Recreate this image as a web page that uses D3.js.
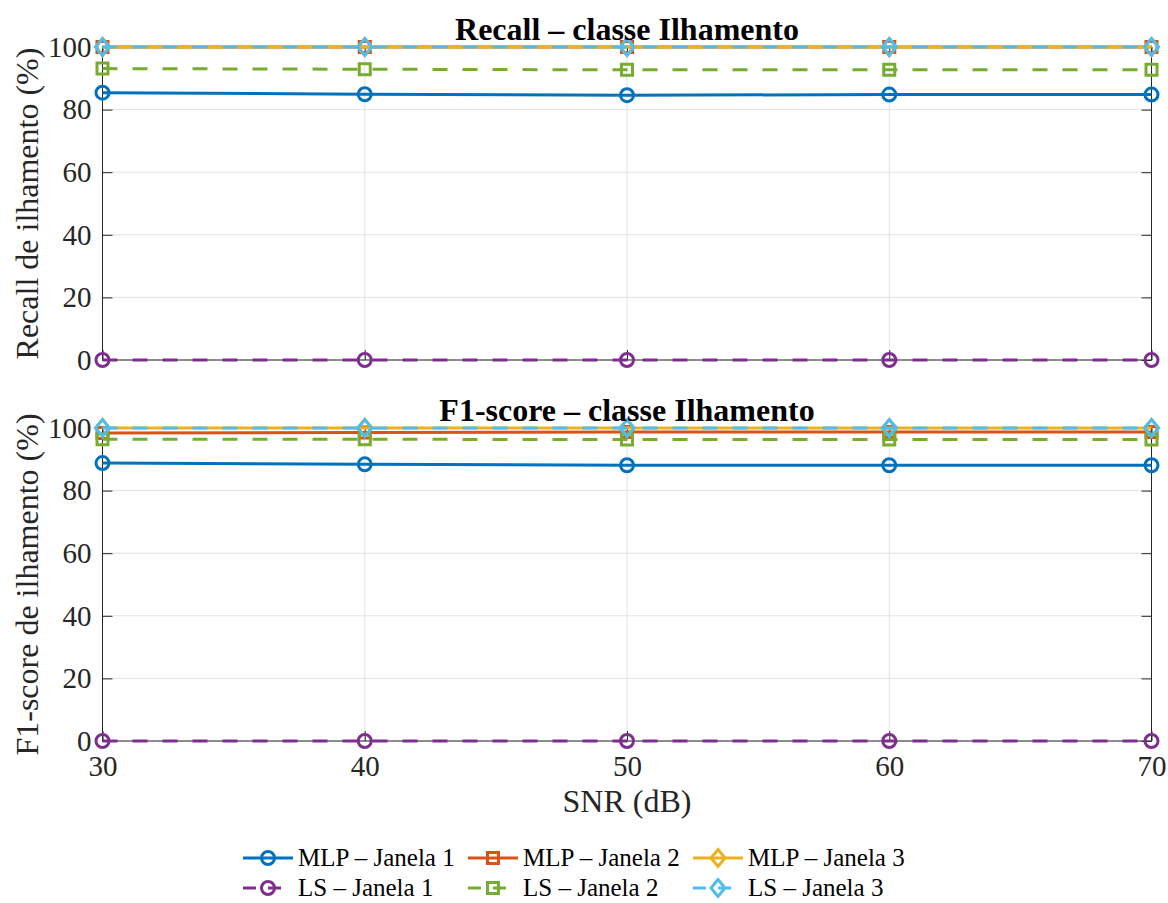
<!DOCTYPE html>
<html>
<head>
<meta charset="utf-8">
<script src="https://cdn.jsdelivr.net/npm/d3@7"></script>
<style>
  body { margin: 0; background: #fff; }
  svg { display: block; font-family: "Liberation Serif", "Times New Roman", serif; }
</style>
</head>
<body>
<svg id="chart" width="1168" height="903"></svg>
<script>
// SNR levels on the x axis
const snr = [30, 40, 50, 60, 70];
const yTicks = [0, 20, 40, 60, 80, 100];

const seriesNames = ["MLP – Janela 1", "MLP – Janela 2", "MLP – Janela 3",
                     "LS – Janela 1", "LS – Janela 2", "LS – Janela 3"];

// Recall (%) of the islanding class
const recallMLP1 = [85.4, 84.9, 84.6, 84.8, 84.8];
const recallMLP2 = [100, 100, 100, 100, 100];
const recallMLP3 = [100, 100, 100, 100, 100];
const recallLS1  = [0, 0, 0, 0, 0];
const recallLS2  = [93.1, 92.9, 92.7, 92.7, 92.7];
const recallLS3  = [100, 100, 100, 100, 100];

// F1-score (%) of the islanding class
const f1MLP1 = [88.8, 88.4, 88.1, 88.1, 88.1];
const f1MLP2 = [98.4, 98.6, 98.7, 98.7, 98.7];
const f1MLP3 = [100, 100, 100, 100, 100];
const f1LS1  = [0, 0, 0, 0, 0];
const f1LS2  = [96.4, 96.4, 96.3, 96.3, 96.3];
const f1LS3  = [100, 100, 100, 100, 100];

const styles = [
  { color: "#0072BD", dash: null,    marker: "circle"  },
  { color: "#D95319", dash: null,    marker: "square"  },
  { color: "#EDB120", dash: null,    marker: "diamond" },
  { color: "#7E2F8E", dash: "15,15", marker: "circle"  },
  { color: "#77AC30", dash: "15,15", marker: "square"  },
  { color: "#4DBEEE", dash: "15,15", marker: "diamond" }
];

const svg = d3.select("#chart");
const axisColor = "#262626";
const gridColor = "#e3e3e3";
const tickFont = 29;
const labelFont = 32;
const legendFont = 25;

const x = d3.scaleLinear().domain([30, 70]).range([102.5, 1151.5]);

function markerPath(type) {
  if (type === "circle") return d3.symbol().type(d3.symbolCircle).size(Math.PI * 6.5 * 6.5)();
  if (type === "square") return "M-5.5,-5.5H5.5V5.5H-5.5Z";
  return "M0,-8.5L7,0L0,8.5L-7,0Z";
}

function drawPanel(top, bottom, title, ylabel, data, showX) {
  const y = d3.scaleLinear().domain([0, 100]).range([bottom, top]);
  const g = svg.append("g");

  // grid
  g.append("g").selectAll("line.v").data(snr).join("line")
    .attr("x1", d => x(d)).attr("x2", d => x(d))
    .attr("y1", top).attr("y2", bottom)
    .attr("stroke", gridColor).attr("stroke-width", 1);
  g.append("g").selectAll("line.h").data(yTicks).join("line")
    .attr("x1", x.range()[0]).attr("x2", x.range()[1])
    .attr("y1", d => y(d)).attr("y2", d => y(d))
    .attr("stroke", gridColor).attr("stroke-width", 1);

  // box
  g.append("rect")
    .attr("x", x.range()[0]).attr("y", top)
    .attr("width", x.range()[1] - x.range()[0]).attr("height", bottom - top)
    .attr("fill", "none").attr("stroke", axisColor).attr("stroke-width", 1);

  // y axis (ticks inward)
  const yAxis = d3.axisLeft(y).tickValues(yTicks).tickSizeInner(-10).tickSizeOuter(0).tickPadding(11);
  const ya = g.append("g").attr("transform", `translate(${x.range()[0]},0)`).call(yAxis);
  ya.select(".domain").remove();
  ya.selectAll("line").attr("stroke", axisColor);
  ya.selectAll("text").attr("font-size", tickFont).attr("fill", axisColor)
    .attr("font-family", "Liberation Serif");
  // right-side ticks
  const yr = g.append("g").attr("transform", `translate(${x.range()[1]},0)`)
    .call(d3.axisRight(y).tickValues(yTicks).tickSizeInner(-10).tickSizeOuter(0).tickFormat(""));
  yr.select(".domain").remove();
  yr.selectAll("line").attr("stroke", axisColor);

  // x axis ticks (inward)
  const xa = g.append("g").attr("transform", `translate(0,${bottom})`)
    .call(d3.axisBottom(x).tickValues(snr).tickSizeInner(-10).tickSizeOuter(0)
      .tickPadding(14).tickFormat(showX ? d3.format("d") : ""));
  xa.select(".domain").remove();
  xa.selectAll("line").attr("stroke", axisColor);
  xa.selectAll("text").attr("font-size", tickFont).attr("fill", axisColor)
    .attr("font-family", "Liberation Serif");
  const xt = g.append("g").attr("transform", `translate(0,${top})`)
    .call(d3.axisTop(x).tickValues(snr).tickSizeInner(-10).tickSizeOuter(0).tickFormat(""));
  xt.select(".domain").remove();
  xt.selectAll("line").attr("stroke", axisColor);

  // series
  const line = d3.line().x((d, i) => x(snr[i])).y(d => y(d));
  data.forEach((vals, k) => {
    const s = styles[k];
    const sg = g.append("g");
    sg.append("path").datum(vals)
      .attr("d", line)
      .attr("fill", "none").attr("stroke", s.color).attr("stroke-width", 3)
      .attr("stroke-dasharray", s.dash);
    sg.selectAll("path.m").data(vals).join("path")
      .attr("class", "m")
      .attr("transform", (d, i) => `translate(${x(snr[i])},${y(d)})`)
      .attr("d", markerPath(s.marker))
      .attr("fill", "none").attr("stroke", s.color).attr("stroke-width", 3);
  });

  // title
  g.append("text").attr("x", (x.range()[0] + x.range()[1]) / 2).attr("y", top - 7)
    .attr("text-anchor", "middle").attr("font-weight", "bold").attr("font-size", 32)
    .attr("fill", "#000").text(title);

  // y label
  g.append("text")
    .attr("transform", `translate(38,${(top + bottom) / 2}) rotate(-90)`)
    .attr("text-anchor", "middle").attr("font-size", labelFont).attr("fill", axisColor)
    .text(ylabel);
}

drawPanel(47, 360, "Recall – classe Ilhamento", "Recall de ilhamento (%)",
  [recallMLP1, recallMLP2, recallMLP3, recallLS1, recallLS2, recallLS3], false);
drawPanel(428, 741, "F1-score – classe Ilhamento", "F1-score de ilhamento (%)",
  [f1MLP1, f1MLP2, f1MLP3, f1LS1, f1LS2, f1LS3], true);

// x label
svg.append("text").attr("x", 627).attr("y", 812).attr("text-anchor", "middle")
  .attr("font-size", labelFont).attr("fill", axisColor).text("SNR (dB)");

// legend: 3 columns x 2 rows
const legX = [243, 468, 693];
const legY = [858, 888];
const leg = svg.append("g");
seriesNames.forEach((name, k) => {
  const s = styles[k];
  const cx = legX[k % 3], cy = legY[Math.floor(k / 3)];
  const item = leg.append("g").attr("transform", `translate(${cx},${cy})`);
  item.append("line").attr("x1", 0).attr("x2", 50).attr("y1", 0).attr("y2", 0)
    .attr("stroke", s.color).attr("stroke-width", 3)
    .attr("stroke-dasharray", s.dash ? "13,12" : null);
  item.append("path").attr("transform", "translate(25,0)").attr("d", markerPath(s.marker))
    .attr("fill", "none").attr("stroke", s.color).attr("stroke-width", 3);
  item.append("text").attr("x", 55).attr("y", 8).attr("font-size", legendFont)
    .attr("fill", "#000").text(name);
});
</script>
</body>
</html>
